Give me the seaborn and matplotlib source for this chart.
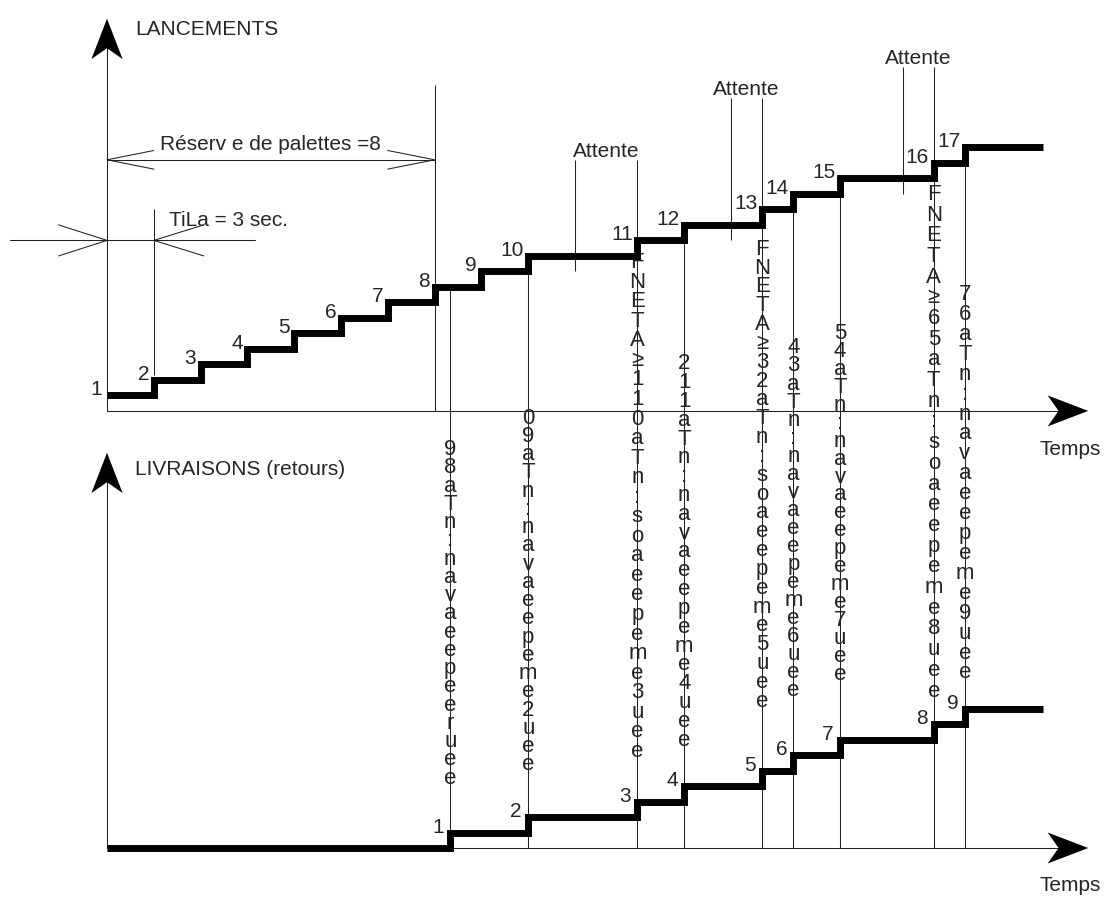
import numpy as np
import pandas as pd
import matplotlib.pyplot as plt
import seaborn as sns

sns.set_theme(style='white')
plt.rcParams['font.family'] = ['Liberation Sans', 'DejaVu Sans']

# Lancements (top chart): time in sec of each launch, palette number
launch_t = [0, 3, 6, 9, 12, 15, 18, 21, 24, 27, 34, 37, 42, 44, 47, 53, 55]
launch_n = list(range(1, 18))
# Livraisons / retours (bottom chart)
deliv_t = [22, 27, 34, 37, 42, 44, 47, 53, 55]
deliv_n = list(range(1, 10))
t_end = 60

# waiting periods (Attente)
wait_start = [30, 40, 51]
wait_end = [34, 42, 53]
tila = 3        # TiLa = 3 sec.
reserve_t = 21  # reserve de palettes = 8

# garbled vertical labels on each return line (read top to bottom)
col_text = ["98aTn:navaeepeerue e".replace(" ", ""),
            "09aTn:navaeepeme2uee",
            "FNETA≥110aTn:soaeepeme3uee",
            "211aTn:navaeepeme4uee",
            "FNETA≥32aTn:soaeepeme5uee",
            "43aTn:navaeepeme6uee",
            "54aTn:navaeepeme7uee",
            "FNETA≥65aTn:soaeepeme8uee",
            "76aTn:navaeepeme9uee"]
col_top = [25.2, 27.2, 37.4, 30.8, 38.1, 31.7, 32.6, 42.1, 35.5]
col_bot = [5.0, 5.9, 6.6, 7.4, 10.0, 10.7, 11.8, 10.2, 11.5]

TOP0 = 28.2   # baseline of the top chart
FS = 15
COL_FS = 16
INK = '#222222'

fig = plt.figure(figsize=(11.06, 8.99), dpi=100)
ax = fig.add_axes([0, 0, 1, 1])
ax.set_xlim(-6.86, 64.04)
ax.set_ylim(-3.29, 54.71)
ax.axis('off')
px_per_y = 899 / (54.71 + 3.29)


def head(x, y, dx, dy, L=2.6, W=1.0, N=0.7):
    px, py = -dy, dx
    xs = [x, x - L * dx + W * px, x - (L - N) * dx, x - L * dx - W * px]
    ys = [y, y - L * dy + W * py, y - (L - N) * dy, y - L * dy - W * py]
    ax.fill(xs, ys, color='black', lw=0, zorder=5)


def vee(x, y, d, L, W):
    ax.plot([x + d * L, x, x + d * L], [y + W, y, y - W], color=INK, lw=0.75)


# axes of both charts
x_tip = 62.9
ax.plot([0, x_tip - 1.5], [TOP0, TOP0], color=INK, lw=0.75)
ax.plot([0, x_tip - 1.5], [0, 0], color=INK, lw=0.75)
ax.plot([0, 0], [TOP0, 52], color=INK, lw=0.75)
ax.plot([0, 0], [0, 24], color=INK, lw=0.75)
head(x_tip, TOP0, 1, 0)
head(x_tip, 0, 1, 0)
head(0, 53.5, 0, 1)
head(0, 25.5, 0, 1)

# step curves
top = pd.DataFrame({'t': launch_t + [t_end],
                    'n': [TOP0 + n for n in launch_n] + [TOP0 + launch_n[-1]]})
bot = pd.DataFrame({'t': [0] + deliv_t + [t_end],
                    'n': [0] + deliv_n + [deliv_n[-1]]})
for df in (top, bot):
    sns.lineplot(data=df, x='t', y='n', drawstyle='steps-post', color='black',
                 lw=5, solid_joinstyle='miter', solid_capstyle='butt', ax=ax,
                 zorder=4)

for t, n in zip(launch_t, launch_n):
    ax.text(t - 0.3, TOP0 + n, str(n), ha='right', va='baseline', fontsize=FS)
for t, n in zip(deliv_t, deliv_n):
    ax.text(t - 0.4, n, str(n), ha='right', va='baseline', fontsize=FS)


def level_before(t):
    prev = [n for tt, n in zip(launch_t, launch_n) if tt < t]
    return TOP0 + prev[-1]


# return lines going from the top chart down to the time axis
for t in deliv_t:
    if t not in wait_end:
        ax.vlines(t, 0, level_before(t), color=INK, lw=0.75)

# attente
attente_y = [44.7, 48.7, 50.7]
for ts, te, y in zip(wait_start, wait_end, attente_y):
    ax.vlines(ts, level_before(ts + 0.01) - 1, y - 0.3, color=INK, lw=0.75)
    ax.vlines(te, 0, y - 0.3, color=INK, lw=0.75)
    ax.text((ts + te) / 2, y - 0.4, 'Attente', ha='center', va='bottom',
            fontsize=FS)

# garbled vertical labels: one stacked text per return line
renderer = fig.canvas.get_renderer()
probe1 = ax.text(0, 0, 'a', fontsize=COL_FS, linespacing=1.0)
probe2 = ax.text(0, 0, 'a\na', fontsize=COL_FS, linespacing=1.0)
line_px = (probe2.get_window_extent(renderer).height
           - probe1.get_window_extent(renderer).height)
probe1.remove()
probe2.remove()
for t, s, yt, yb in zip(deliv_t, col_text, col_top, col_bot):
    step_px = (yt - yb) * px_per_y / (len(s) - 1)
    ax.text(t, (yt + yb) / 2, '\n'.join(s), ha='center', va='center',
            multialignment='center', fontsize=COL_FS,
            linespacing=step_px / line_px)

# reserve de palettes
ax.vlines(reserve_t, TOP0, 49.2, color=INK, lw=0.75)
ax.plot([0, reserve_t], [44.4, 44.4], color=INK, lw=0.75)
vee(0, 44.4, 1, 3.0, 0.6)
vee(reserve_t, 44.4, -1, 3.0, 0.6)
ax.text(reserve_t / 2, 45.4, 'Réserv e de palettes =8', ha='center',
        va='center', fontsize=FS)

# TiLa
ax.vlines(tila, 30.5, 41.2, color=INK, lw=0.75)
ax.plot([-6.2, 9.5], [39.2, 39.2], color=INK, lw=0.75)
vee(0, 39.2, -1, 3.1, 1.0)
vee(tila, 39.2, 1, 3.2, 1.0)
ax.text(4.0, 40.5, 'TiLa = 3 sec.', ha='left', va='center', fontsize=FS)

ax.text(1.8, 52.8, 'LANCEMENTS', ha='left', va='center', fontsize=FS)
ax.text(1.8, 24.4, 'LIVRAISONS (retours)', ha='left', va='center', fontsize=FS)
ax.text(63.7, 25.7, 'Temps', ha='right', va='center', fontsize=FS)
ax.text(63.7, -2.45, 'Temps', ha='right', va='center', fontsize=FS)

fig.savefig('out.png', dpi=100)
